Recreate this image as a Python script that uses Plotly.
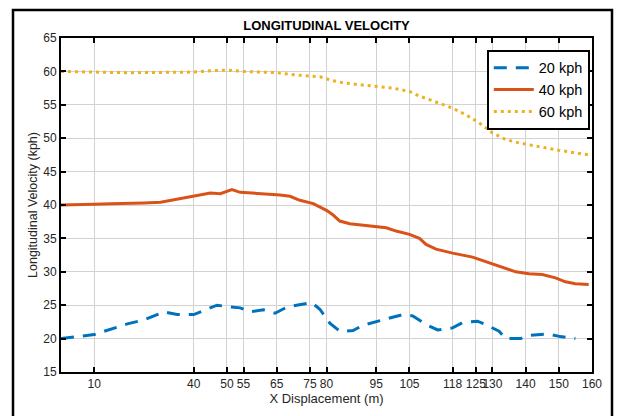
import plotly.graph_objects as go

# ---- data ----
x_20 = [0, 5, 10, 13, 17, 20, 25, 31, 35, 40, 43, 47, 50, 54, 57, 61, 64.5, 68, 71, 75.5, 78, 81, 84, 88, 91, 95, 99, 103, 106, 110, 113.5, 118, 121, 125.5, 128, 132, 134, 138.5, 141.5, 146.5, 150.5, 155]
v_20 = [20.0, 20.3, 20.6, 21.1, 21.7, 22.2, 22.8, 24.0, 23.6, 23.6, 24.2, 25.0, 24.8, 24.6, 24.0, 24.3, 23.8, 24.7, 25.0, 25.4, 24.4, 22.3, 21.1, 21.2, 22.0, 22.5, 23.0, 23.6, 23.4, 22.1, 21.3, 21.6, 22.4, 22.6, 22.1, 21.1, 20.0, 20.0, 20.5, 20.7, 20.3, 20.0]

x_40 = [0, 5, 10, 15, 20, 25, 30, 34, 38, 42, 45, 48, 51.5, 54, 58, 62, 66, 69, 72, 76, 80, 82, 84, 87, 91, 95, 98, 101, 105, 108, 110, 113, 118, 124, 128, 133, 137, 141, 145, 149, 152, 155, 159]
v_40 = [40.0, 40.0, 40.1, 40.2, 40.2, 40.3, 40.4, 40.8, 41.1, 41.5, 41.8, 41.7, 42.3, 41.9, 41.8, 41.7, 41.5, 41.3, 40.7, 40.2, 39.2, 38.5, 37.6, 37.2, 37.0, 36.8, 36.6, 36.1, 35.6, 35.0, 34.1, 33.4, 32.8, 32.2, 31.5, 30.6, 30.0, 29.7, 29.6, 29.1, 28.5, 28.2, 28.1]

x_60 = [0, 5, 10, 20, 30, 40, 45, 50, 55, 60, 65, 70, 75, 78, 82, 85, 90, 95, 100, 105, 108, 112, 118, 122, 126, 130, 134, 138, 142, 146, 150, 155, 159]
v_60 = [60.0, 59.9, 59.9, 59.8, 59.9, 59.9, 60.1, 60.2, 60.0, 59.9, 59.8, 59.5, 59.3, 59.2, 58.6, 58.3, 58.0, 57.8, 57.5, 57.0, 56.3, 55.6, 54.5, 53.5, 52.3, 50.8, 49.8, 49.3, 48.9, 48.5, 48.2, 47.8, 47.5]

x_ticks = [10, 40, 50, 55, 65, 75, 80, 95, 105, 118, 125, 130, 140, 150, 160]
y_ticks = [15, 20, 25, 30, 35, 40, 45, 50, 55, 60, 65]

FONT = "Liberation Sans, Arial, Helvetica, sans-serif"

fig = go.Figure()
fig.add_trace(go.Scatter(x=x_20, y=v_20, mode="lines", name="20 kph",
                         line=dict(color="#0072BD", width=3, dash="13px,9px")))
fig.add_trace(go.Scatter(x=x_40, y=v_40, mode="lines", name="40 kph",
                         line=dict(color="#D95319", width=3)))
fig.add_trace(go.Scatter(x=x_60, y=v_60, mode="lines", name="60 kph",
                         line=dict(color="#EDB120", width=3, dash="3px,4px")))

# plot area pixel geometry
L, R, T, B = 61, 592, 38, 372
W, H = 617, 416
pw, ph = R - L, B - T

def px(xp):
    return (xp - L) / pw

def py(yp):
    return (B - yp) / ph

fig.add_shape(type="rect", xref="paper", yref="paper",
              x0=px(13), x1=px(612), y0=py(430), y1=py(10),
              line=dict(color="black", width=2.5), fillcolor="rgba(0,0,0,0)", layer="above")

axis_common = dict(showline=True, linecolor="black", linewidth=1.8, mirror="ticks",
                   ticks="inside", ticklen=5, tickwidth=1.5, tickcolor="black",
                   showgrid=True, gridcolor="#d2d2d2", gridwidth=1, zeroline=False,
                   tickfont=dict(family=FONT, size=12, color="#262626"))

fig.update_layout(
    width=W, height=H,
    margin=dict(l=L, r=W - R, t=T, b=H - B),
    paper_bgcolor="white", plot_bgcolor="white",
    title=dict(text="<b>LONGITUDINAL VELOCITY</b>", x=(L + R) / 2 / W, xanchor="center",
               y=1 - 25 / H, yanchor="middle", font=dict(family=FONT, size=13, color="black")),
    xaxis=dict(range=[0, 160], tickmode="array", tickvals=x_ticks,
               ticktext=[str(v) for v in x_ticks], tickangle=0,
               title=dict(text="X Displacement (m)", font=dict(family=FONT, size=13, color="#262626"), standoff=2),
               **axis_common),
    yaxis=dict(range=[15, 65], tickmode="array", tickvals=y_ticks,
               title=dict(text="Longitudinal Velocity (kph)", font=dict(family=FONT, size=12.5, color="#262626"), standoff=3),
               **axis_common),
    legend=dict(x=px(487), y=py(50), xanchor="left", yanchor="top",
                bgcolor="white", bordercolor="black", borderwidth=1.8,
                itemwidth=40,
                font=dict(family=FONT, size=14.5, color="black"), tracegroupgap=0),
    showlegend=True,
)

fig.write_html("out.html")
